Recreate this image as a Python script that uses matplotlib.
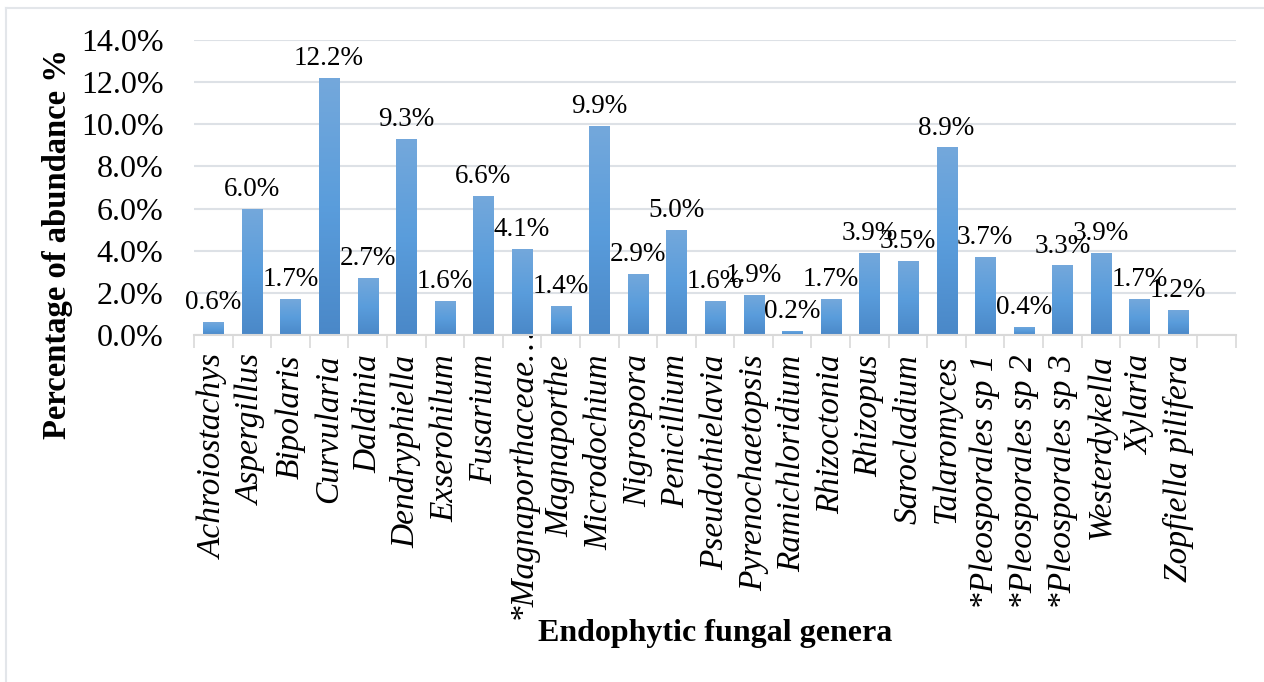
import numpy as np
import matplotlib
matplotlib.use("Agg")
import matplotlib.pyplot as plt
from matplotlib.colors import LinearSegmentedColormap
from matplotlib.lines import Line2D
from matplotlib.transforms import ScaledTranslation

plt.rcParams['font.family'] = ['Liberation Serif', 'DejaVu Serif']

genera = ["Achroiostachys", "Aspergillus", "Bipolaris", "Curvularia", "Daldinia",
          "Dendryphiella", "Exserohilum", "Fusarium", "*Magnaporthaceae\u2026",
          "Magnaporthe", "Microdochium", "Nigrospora", "Penicillium",
          "Pseudothielavia", "Pyrenochaetopsis", "Ramichloridium", "Rhizoctonia",
          "Rhizopus", "Sarocladium", "Talaromyces", "*Pleosporales sp 1",
          "*Pleosporales sp 2", "*Pleosporales sp 3", "Westerdykella", "Xylaria",
          "Zopfiella pilifera"]
abundance = [0.6, 6.0, 1.7, 12.2, 2.7, 9.3, 1.6, 6.6, 4.1, 1.4, 9.9, 2.9, 5.0,
             1.6, 1.9, 0.2, 1.7, 3.9, 3.5, 8.9, 3.7, 0.4, 3.3, 3.9, 1.7, 1.2]
yticks = [0, 2, 4, 6, 8, 10, 12, 14]

W, H = 1264, 682
fig = plt.figure(figsize=(W / 100, H / 100), dpi=100)
ax = fig.add_axes([194 / W, 1 - 335 / H, (1236 - 194) / W, (335 - 40) / H])

x = np.arange(len(genera))
bars = ax.bar(x, abundance, width=0.52, color='none', edgecolor='none', zorder=2)

# vertical gradient fill, light at the top and darker at the base
grad_cmap = LinearSegmentedColormap.from_list(
    "bluegrad", ["#4A88C8", "#5A9DDC", "#74A8DB"])
grad = np.linspace(0, 1, 256).reshape(-1, 1)
for b in bars:
    x0, w, h = b.get_x(), b.get_width(), b.get_height()
    im = ax.imshow(grad, cmap=grad_cmap, origin='lower', aspect='auto',
                   extent=(x0, x0 + w, 0, h), zorder=2)
    im.set_clip_path(b)

# one spare category slot is left empty on the right
ax.set_xlim(-0.5, len(genera) + 0.5)
ax.set_ylim(0, 14)

ax.bar_label(bars, labels=[f"{v:.1f}%" for v in abundance], padding=5,
             fontsize=19.5, color='black')

ax.set_yticks(yticks)
ax.set_yticklabels([f"{v:.1f}%" for v in yticks], fontsize=23)
ax.tick_params(axis='y', length=0, pad=22)
ax.grid(axis='y', color='#DDE1E6', linewidth=1.5, zorder=0)
ax.set_axisbelow(True)

ax.set_xticks(x)
ax.set_xticklabels(genera, rotation=90, fontsize=24, style='italic',
                   va='top', ha='center')
ax.tick_params(axis='x', which='major', length=0, pad=14)
ax.set_xticks(np.arange(-0.5, len(genera) + 1.0, 1.0), minor=True)
ax.tick_params(axis='x', which='minor', length=9, width=1.2, color='#D9D9D9',
               direction='out')

# the truncated long label sits higher, its ellipsis reaching the tick area
long_lbl = ax.get_xticklabels()[8]
long_lbl.set_transform(long_lbl.get_transform()
                       + ScaledTranslation(0, 0.27, fig.dpi_scale_trans))

for s in ['top', 'right', 'left']:
    ax.spines[s].set_visible(False)
ax.spines['bottom'].set_color('#D9D9D9')
ax.spines['bottom'].set_linewidth(1.5)

fig.text(58 / W, 1 - 244 / H, "Percentage of abundance %", rotation=90,
         fontsize=23.5, fontweight='bold', ha='center', va='center')
fig.text(715 / W, 1 - 633 / H, "Endophytic fungal genera", fontsize=23,
         fontweight='bold', ha='center', va='center')

# chart area frame
fig.add_artist(Line2D([6 / W, 6 / W], [0, 1 - 8 / H], transform=fig.transFigure,
                      color='#E3E6EA', linewidth=1.5))
fig.add_artist(Line2D([6 / W, 1], [1 - 8 / H, 1 - 8 / H], transform=fig.transFigure,
                      color='#E3E6EA', linewidth=1.5))

fig.savefig("out.png", dpi=100)
